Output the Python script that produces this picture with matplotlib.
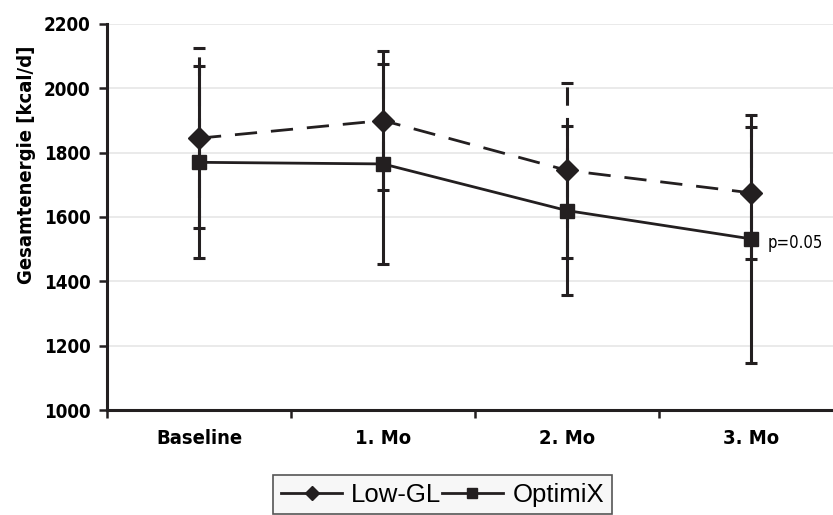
import numpy as np
import matplotlib.pyplot as plt
from matplotlib import font_manager
from matplotlib.lines import Line2D

# energy intake per visit, mean and SD
visits = ["Baseline", "1. Mo", "2. Mo", "3. Mo"]
low_gl_mean = [1845, 1900, 1745, 1675]
low_gl_sd = [280, 217, 273, 205]
optimix_mean = [1770, 1765, 1620, 1532]
optimix_sd = [298, 310, 262, 386]

ink = "#231f20"

# pick a condensed face if one is around
names = {f.name for f in font_manager.fontManager.ttflist}
cond = [f for f in font_manager.fontManager.ttflist
        if f.name == "DejaVu Sans" and f.stretch in ("condensed", "semi-condensed", 600, 500)]
if "Liberation Sans Narrow" in names:
    narrow = dict(family="Liberation Sans Narrow")
elif cond:
    narrow = dict(family="DejaVu Sans", stretch="condensed")
else:
    narrow = dict(family="Liberation Sans")

fig = plt.figure(figsize=(8.33, 5.15), dpi=100)
ax = fig.add_axes([107 / 833, 1 - 410 / 515, 736 / 833, 386 / 515])

x = np.arange(len(visits))

eb1 = ax.errorbar(x, low_gl_mean, yerr=low_gl_sd, color=ink, lw=2.0,
                  dashes=(8, 5), marker="D", ms=11.5, capsize=4.5, capthick=2.2,
                  elinewidth=2.2, zorder=3)
eb1[2][0].set_linestyle((0, (6, 4)))
eb2 = ax.errorbar(x, optimix_mean, yerr=optimix_sd, color=ink, lw=2.0,
                  marker="s", ms=9.5, capsize=4.5, capthick=2.2,
                  elinewidth=2.2, zorder=3)

ax.text(x[3] + 0.09, optimix_mean[3] - 12, "p=0.05", fontsize=12,
        color="black", va="center", ha="left", **narrow)

ax.set_xlim(-0.5, 3.5)
ax.set_ylim(1000, 2200)
ax.set_yticks(np.arange(1000, 2201, 200))
ax.set_xticks(x)
ax.set_xticklabels(visits)
ax.set_xticks(np.arange(-0.5, 3.6, 1), minor=True)
ax.tick_params(axis="x", which="major", length=0, pad=14)
ax.tick_params(axis="x", which="minor", length=6, width=1.8, color=ink, direction="out")
ax.tick_params(axis="y", length=6, width=1.8, color=ink, direction="out", pad=6)
for lab in ax.get_yticklabels():
    for k, v in narrow.items():
        getattr(lab, "set_" + k)(v)
    lab.set_fontweight("bold")
    lab.set_fontsize(13.5)
for lab in ax.get_xticklabels():
    for k, v in narrow.items():
        getattr(lab, "set_" + k)(v)
    lab.set_fontweight("bold")
    lab.set_fontsize(14.5)

ax.grid(axis="y", color="#e6e6e6", lw=1.2)
ax.set_axisbelow(True)
for side in ["top", "right"]:
    ax.spines[side].set_visible(False)
for side in ["left", "bottom"]:
    ax.spines[side].set_color(ink)
    ax.spines[side].set_linewidth(2.2)

fig.text(27 / 833, 1 - 165 / 515, "Gesamtenergie [kcal/d]", rotation=90,
         ha="center", va="center", fontsize=14.5, fontweight="bold", **narrow)

handles = [Line2D([], [], color=ink, lw=2, marker="D", ms=7),
           Line2D([], [], color=ink, lw=2, marker="s", ms=7)]
leg = fig.legend(handles, ["Low-GL", "OptimiX"], ncol=2, loc="upper left",
                 bbox_to_anchor=(273 / 833, 1 - 475 / 515), frameon=True,
                 fancybox=False, edgecolor="#555555", facecolor="#f7f7f7",
                 handlelength=2.4, handletextpad=0.35, columnspacing=0.0,
                 borderpad=0.3, borderaxespad=0.0,
                 prop={"family": ["Liberation Sans", "DejaVu Sans"], "size": 18.5})
leg.get_frame().set_linewidth(1.2)
leg.get_frame().set_alpha(1)

fig.savefig("out.png", dpi=100)
